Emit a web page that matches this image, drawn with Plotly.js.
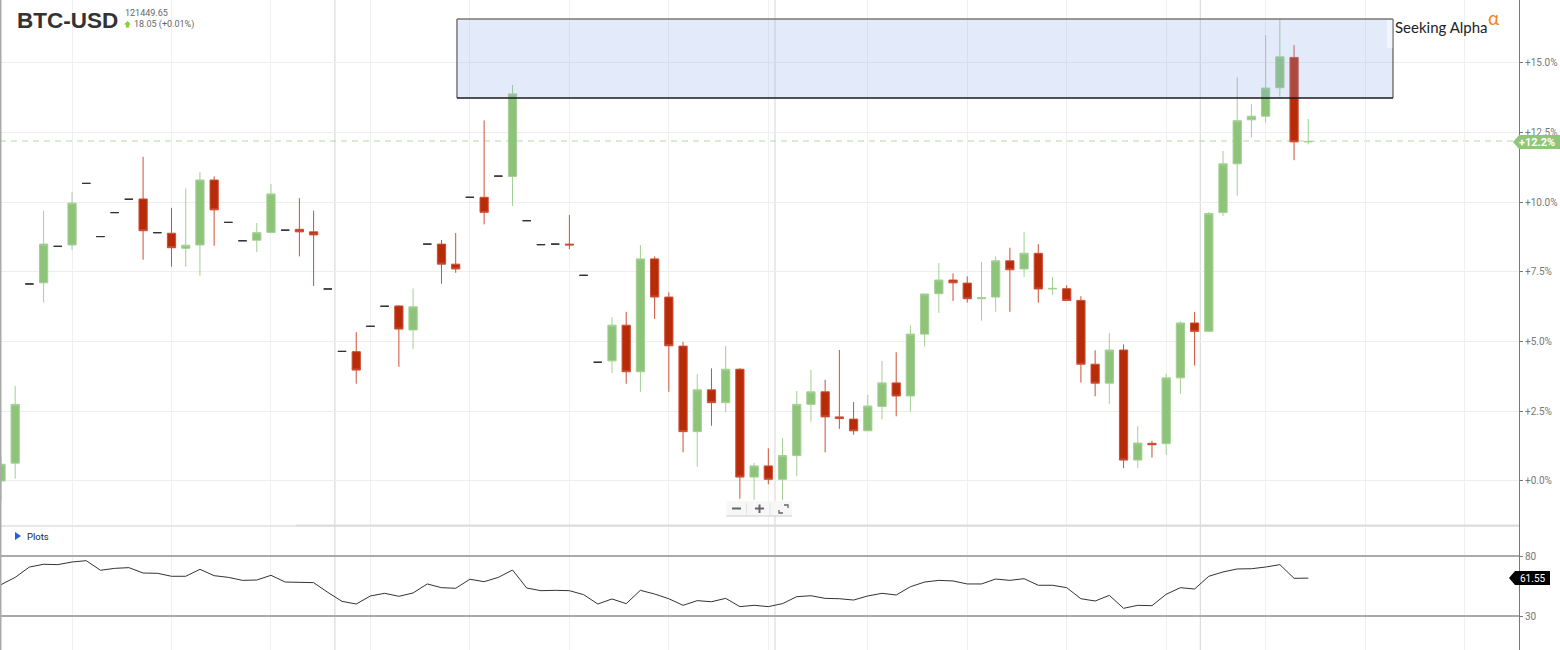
<!DOCTYPE html>
<html><head><meta charset="utf-8">
<script src="https://cdn.plot.ly/plotly-3.0.1.min.js"></script>
<style>html,body{margin:0;padding:0;background:#fff}#c{width:1560px;height:650px}</style>
</head><body><div id="c"></div>
<script>
const opens=[0,0.64,7.07,7.11,8.42,8.47,10.68,8.77,9.63,10.11,10.12,8.91,8.89,8.35,8.47,10.80,9.28,8.62,8.64,8.92,9.00,9.03,8.94,6.89,4.65,4.64,5.55,6.27,6.28,5.42,8.50,8.50,7.78,10.18,10.18,10.94,10.93,9.34,8.48,8.50,8.50,7.38,4.26,4.31,5.59,3.92,7.97,6.60,4.84,1.77,3.27,2.81,4.01,0.14,0.54,0.06,0.91,2.75,3.20,2.30,2.22,1.80,2.67,3.52,3.05,5.27,6.72,7.21,7.10,6.54,6.60,7.90,7.61,8.17,6.89,6.90,6.48,4.19,3.51,4.70,0.75,1.35,1.34,3.70,5.67,5.37,9.63,11.38,12.96,13.09,14.11,15.20,12.17];
const closes=[0.60,2.75,7.07,8.50,8.42,9.97,10.68,8.77,9.63,10.11,8.98,8.91,8.37,8.46,10.80,9.73,9.28,8.62,8.91,10.30,9.00,8.94,8.83,6.89,4.65,3.98,5.55,6.27,5.45,6.25,8.50,7.78,7.61,10.18,9.64,10.94,13.89,9.34,8.48,8.50,8.47,7.38,4.26,5.59,3.92,7.97,6.60,4.85,1.77,3.27,2.81,4.01,0.14,0.54,0.06,0.91,2.75,3.20,2.30,2.24,1.80,2.69,3.52,3.05,5.27,6.71,7.21,7.11,6.54,6.58,7.90,7.58,8.17,6.89,6.91,6.48,4.19,3.51,4.70,0.75,1.36,1.30,3.70,5.67,5.37,9.60,11.38,12.93,13.09,14.10,15.22,12.17,12.18];
const highs=[0.87,3.41,7.07,9.70,8.42,10.36,10.68,8.77,9.63,10.11,11.63,8.91,9.80,10.50,11.08,10.93,9.28,8.62,9.26,10.65,9.00,10.15,9.70,6.89,4.65,5.34,5.55,6.27,6.31,6.91,8.50,8.65,8.90,10.18,12.94,10.94,14.21,9.34,8.48,8.50,9.54,7.38,4.26,5.88,6.07,8.47,8.06,6.77,4.99,3.84,4.04,4.84,4.05,0.65,1.17,1.54,3.23,3.98,3.63,4.70,2.83,3.09,4.31,4.62,5.59,6.71,7.82,7.45,7.34,7.86,8.06,8.37,8.93,8.50,7.32,7.02,6.63,4.69,5.31,4.90,1.97,1.44,3.84,5.73,6.06,9.65,11.84,14.48,13.52,16.00,16.58,15.64,12.99];
const lows=[-0.71,0.08,7.07,6.40,8.42,8.29,10.68,8.77,9.63,10.11,7.94,8.91,7.69,7.69,7.37,8.44,9.28,8.62,8.21,8.89,9.00,8.06,7.00,6.89,4.65,3.49,5.55,6.27,4.10,4.74,8.50,7.08,7.47,10.18,9.21,10.94,9.87,9.34,8.48,8.50,8.32,7.38,4.26,3.87,3.49,3.20,5.82,3.20,1.03,0.51,1.98,2.46,-0.64,-0.68,-0.12,-0.68,0.17,2.13,1.03,1.87,1.66,1.80,2.21,2.32,2.49,4.82,6.03,6.46,6.40,5.75,6.07,6.07,7.32,6.40,6.68,6.48,3.53,3.04,2.77,0.46,0.46,0.84,0.93,3.13,4.14,5.37,9.51,10.24,12.32,12.86,13.79,11.51,12.08];
const rsi=[56.1,62.2,70.8,73.1,72.8,75.0,76.1,68.1,69.7,70.3,65.8,65.6,63.1,63.1,68.9,63.6,62.2,59.7,60.0,63.9,58.3,58.3,57.8,49.7,42.2,40.0,46.7,48.9,46.4,49.2,56.7,53.6,53.1,60.6,58.6,62.2,68.3,53.3,51.1,51.4,51.1,47.8,40.0,44.2,40.3,51.4,48.3,44.4,38.9,42.8,41.9,44.7,37.8,38.9,37.8,40.3,46.1,46.9,44.7,44.4,43.3,46.7,48.9,47.5,54.4,58.3,59.7,59.2,56.7,56.7,60.8,59.7,61.1,55.6,55.6,53.6,44.4,42.5,47.2,36.4,38.9,38.6,48.1,53.6,52.5,63.1,66.7,69.2,69.4,70.8,72.8,61.4,61.55];
const weekTicks=[5,12,19,26,33,40,47,54,61,68,75,82,89,96,103];
const monthLines=[23.5,54.47,84.4];
const pctTicks=[0,2.5,5,7.5,10,12.5,15];
const pctLabels=['+0.0%','+2.5%','+5.0%','+7.5%','+10.0%','+12.5%','+15.0%'];
const rsiTicks=[30,80];
const lastPct=12.2;
const zoneTop=16.58, zoneBottom=13.74, zoneStart=32.09, zoneEnd=97.96;

const W=1560,H=650,PW=1519;
const px=v=>v/PW, py=v=>1-v/H;
const idx=opens.map((_,i)=>i);
const flat=idx.filter(i=>opens[i]===closes[i]&&highs[i]===lows[i]);
const body=idx.filter(i=>!flat.includes(i));
const pick=(a,s)=>s.map(i=>a[i]);
const GREEN='#8dc47a',RED='#b82b09';
const traces=[
 {type:'candlestick',x:body,open:pick(opens,body),high:pick(highs,body),low:pick(lows,body),close:pick(closes,body),xaxis:'x',yaxis:'y',
  increasing:{line:{color:'#a3d093',width:1},fillcolor:GREEN},decreasing:{line:{color:'#cc5036',width:1},fillcolor:RED},whiskerwidth:0,hoverinfo:'skip',showlegend:false},
 {type:'candlestick',x:flat,open:pick(opens,flat),high:pick(highs,flat),low:pick(lows,flat),close:pick(closes,flat),xaxis:'x',yaxis:'y',
  increasing:{line:{color:'#333',width:1},fillcolor:'#333'},decreasing:{line:{color:'#333',width:1},fillcolor:'#333'},whiskerwidth:0,hoverinfo:'skip',showlegend:false},
 {type:'scatter',mode:'lines',x:idx,y:rsi,xaxis:'x',yaxis:'y2',line:{color:'#333',width:1},hoverinfo:'skip',showlegend:false}
];
const pline=(x0,y0,x1,y1,color,width,extra)=>Object.assign({type:'line',xref:'paper',yref:'paper',x0:px(x0),x1:px(x1),y0:py(y0),y1:py(y1),line:{color,width}},extra||{});
const ppath=(pts,fill,color,width)=>({type:'path',xref:'paper',yref:'paper',path:'M'+pts.map(p=>px(p[0])+' '+py(p[1])).join('L')+(fill?'Z':''),fillcolor:fill||'rgba(0,0,0,0)',line:{color:color||'rgba(0,0,0,0)',width:width||0}});
const shapes=[
 ...monthLines.map(m=>({type:'line',xref:'x',yref:'paper',x0:m,x1:m,y0:0,y1:1,layer:'below',line:{color:'#d4d4d4',width:1}})),
 {type:'line',xref:'paper',yref:'y',x0:0,x1:1,y0:lastPct,y1:lastPct,layer:'below',line:{color:'#b4d8a8',width:1,dash:'6px,5px'}},
 {type:'rect',xref:'paper',yref:'paper',x0:0,x1:px(332),y0:py(546),y1:py(527),layer:'below',fillcolor:'#fff',line:{width:0}},
 pline(0,526,1519,526,'#cfcfcf',1),
 pline(296,525.5,1519,525.5,'#dddddd',2),
 pline(0.5,0,0.5,650,'#aaaaaa',2),
 pline(1519.5,0,1519.5,650,'#777777',1),
 {type:'line',xref:'paper',yref:'y2',x0:0,x1:1,y0:80,y1:80,line:{color:'#aaaaaa',width:2}},
 {type:'line',xref:'paper',yref:'y2',x0:0,x1:1,y0:30,y1:30,line:{color:'#aaaaaa',width:2}},
 {type:'rect',xref:'x',yref:'y',x0:zoneStart,x1:zoneEnd,y0:zoneBottom,y1:zoneTop,fillcolor:'rgba(138,167,233,0.24)',line:{width:0}},
 {type:'line',xref:'x',yref:'y',x0:zoneStart,x1:zoneEnd,y0:zoneTop,y1:zoneTop,line:{color:'#777',width:1.5}},
 {type:'line',xref:'x',yref:'y',x0:zoneStart,x1:zoneStart,y0:zoneBottom,y1:zoneTop,line:{color:'#777',width:1.5}},
 {type:'line',xref:'x',yref:'y',x0:zoneEnd,x1:zoneEnd,y0:zoneBottom,y1:zoneTop,line:{color:'#777',width:1.5}},
 {type:'line',xref:'x',yref:'y',x0:zoneStart,x1:zoneEnd,y0:zoneBottom,y1:zoneBottom,line:{color:'#1a1a1a',width:1.5}},
 {type:'rect',xref:'paper',yref:'paper',x0:px(1387),x1:px(1392.5),y0:py(48),y1:py(20),fillcolor:'rgba(255,255,255,0.5)',line:{width:0}},
 ppath([[1513,142],[1519,135],[1560,135],[1560,149],[1519,149]],'#90c67c'),
 ppath([[1509,578],[1515,571],[1550,571],[1550,585],[1515,585]],'#000000'),
 ppath([[127.5,21],[131,24.5],[129.2,24.5],[129.2,27.5],[125.8,27.5],[125.8,24.5],[124,24.5]],'#8ccc3c'),
 ppath([[15,532],[21,536],[15,540]],'#1f62d8'),
 {type:'rect',xref:'paper',yref:'paper',x0:px(726.5),x1:px(792),y0:py(516),y1:py(501),fillcolor:'#f7f7f7',line:{width:0}},
 pline(726.5,516,792,516,'#cccccc',1),
 pline(746.5,503,746.5,515,'#e4e4e4',1),
 pline(770,503,770,515,'#e4e4e4',1),
 pline(732,508.5,741,508.5,'#666',2),
 pline(755,508.5,764,508.5,'#666',2),
 pline(759.5,504.5,759.5,513,'#666',2),
 ppath([[779,510],[779,513],[783,513]],null,'#666',1.3),
 ppath([[784,505],[788,505],[788,508]],null,'#666',1.3)
];
const ann=(x,y,text,size,color,extra)=>Object.assign({xref:'paper',yref:'paper',x:px(x),y:py(y),text,showarrow:false,xanchor:'left',yanchor:'middle',font:{family:'"Liberation Sans",Arial,sans-serif',size,color},borderpad:0},extra||{});
const annotations=[
 ann(16,20,'<b>BTC-USD</b>',22.5,'#333333'),
 ann(124,12.5,'121449.65',9,'#666666',{font:{family:'Roboto,sans-serif',size:9,color:'#666666'}}),
 ann(133,24,'18.05 (+0.01%)',9,'#666666',{font:{family:'Roboto,sans-serif',size:9,color:'#666666'}}),
 ann(26,536.5,'Plots',9.5,'#222222',{font:{family:'Roboto,sans-serif',size:9.5,color:'#222222'}}),
 ann(1394,27,'Seeking Alpha',15,'#222222',{font:{family:'Lato,sans-serif',size:15,color:'#222222'}}),
 ann(1487,18,'α',19,'#f58220',{font:{family:'Lato,sans-serif',size:19,color:'#f58220'}}),
 ann(1537,142.5,'<b>+12.2%</b>',11,'#ffffff',{xanchor:'center',font:{family:'Roboto,sans-serif',size:11,color:'#ffffff'}}),
 ann(1532,578.5,'61.55',10,'#ffffff',{xanchor:'center',font:{family:'Roboto,sans-serif',size:10,color:'#ffffff'}})
];
const tickFont={family:'Roboto,sans-serif',size:10,color:'#777777'};
const layout={
 width:W,height:H,autosize:false,paper_bgcolor:'#fff',plot_bgcolor:'#fff',
 margin:{l:0,r:41,t:0,b:0,pad:0},showlegend:false,boxgap:0.42,boxgroupgap:0,boxmode:'overlay',
 xaxis:{domain:[0,1],range:[-0.07,106.83],anchor:'y2',tickmode:'array',tickvals:weekTicks,showticklabels:false,ticks:'',showgrid:true,gridcolor:'#f0f0f0',gridwidth:1,zeroline:false,showline:false,rangeslider:{visible:false},fixedrange:true},
 yaxis:{domain:[125/650,1],range:[-1.58,17.26],side:'right',anchor:'x',tickmode:'array',tickvals:pctTicks,ticktext:pctLabels,ticks:'outside',ticklen:3,tickcolor:'#777',tickfont:tickFont,showgrid:true,gridcolor:'#eeeeee',zeroline:false,showline:true,linecolor:'#777777',linewidth:1,fixedrange:true},
 yaxis2:{domain:[0,124/650],range:[1.67,105],side:'right',anchor:'x',tickmode:'array',tickvals:rsiTicks,ticks:'outside',ticklen:3,tickcolor:'#777',tickfont:tickFont,showgrid:false,zeroline:false,showline:true,linecolor:'#777777',linewidth:1,fixedrange:true},
 shapes,annotations
};
Plotly.newPlot('c',traces,layout,{displayModeBar:false,staticPlot:true});
</script></body></html>
